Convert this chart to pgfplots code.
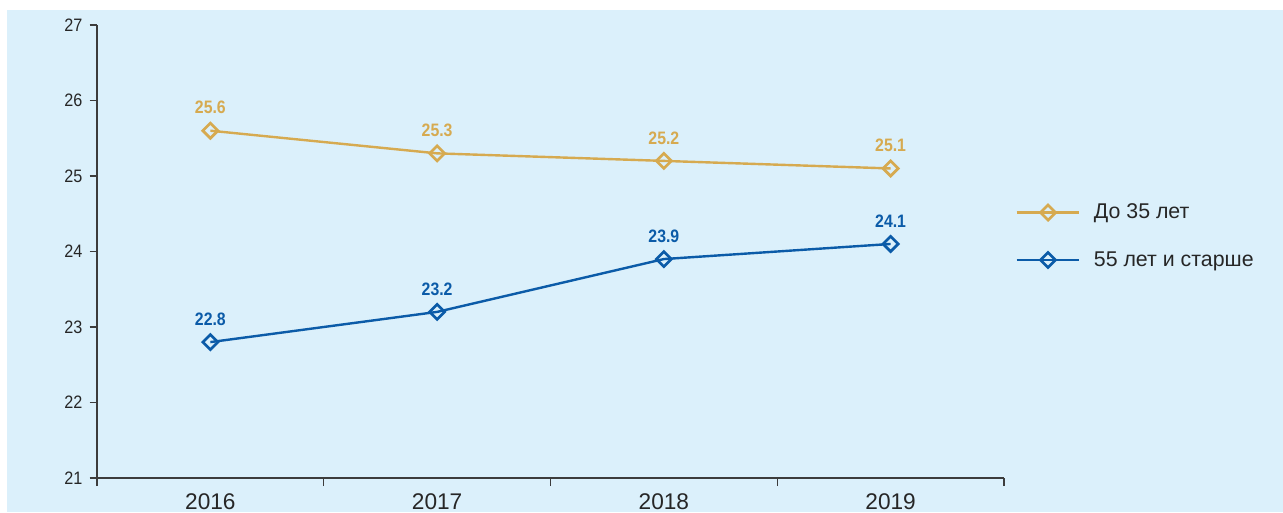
\documentclass[border=0pt]{standalone}
\usepackage{fontspec}
\setmainfont{Liberation Sans}
\newfontfamily\narrowfont[FakeStretch=0.9]{Liberation Sans}
\newfontfamily\narrowbold[FakeStretch=0.88]{Liberation Sans Bold}
\usepackage{pgfplots}
\pgfplotsset{compat=1.18}

\definecolor{bgblue}{RGB}{219,240,251}
\definecolor{gold}{RGB}{214,170,80}
\definecolor{darkblue}{RGB}{11,91,168}
\definecolor{axisgray}{RGB}{60,60,60}

\begin{document}
\begin{tikzpicture}[x=0.75pt,y=0.75pt]
\useasboundingbox (0,0) rectangle (1283,512);
\fill[white] (0,0) rectangle (1283,512);
\fill[bgblue] (7,0) rectangle (1283,502);
\begin{axis}[
    at={(72.75pt,25.5pt)}, anchor=south west,
    scale only axis,
    width=680.25pt, height=339.75pt,
    xmin=-0.5, xmax=3.5,
    ymin=21, ymax=27,
    axis x line*=bottom, axis y line*=left,
    axis line style={axisgray, line width=0.9pt},
    xtick={0,1,2,3},
    xticklabels={2016,2017,2018,2019},
    minor xtick={-0.5,0.5,1.5,2.5,3.5},
    major x tick style={draw=none},
    minor x tick style={axisgray, line width=0.9pt},
    minor tick length=6pt,
    ytick={21,...,27},
    y tick style={axisgray, line width=0.9pt},
    major tick length=5.5pt,
    tick align=outside,
    x tick label style={font=\fontsize{17}{20}\selectfont, text=black!85, yshift=-3pt},
    y tick label style={font=\narrowfont\fontsize{13.5}{15}\selectfont, text=black!85, xshift=-2pt},
    /pgf/number format/assume math mode=true,
    nodes near coords,
    every node near coord/.append style={font=\narrowbold\fontsize{13.5}{15}\selectfont,
        anchor=south, inner sep=0pt, yshift=11.5pt,
        /pgf/number format/fixed, /pgf/number format/precision=1, /pgf/number format/zerofill},
    clip=false,
    legend style={at={(1.008,0.617)}, anchor=north west, draw=none, fill=none,
        font=\fontsize{16}{19}\selectfont, text=black!85, row sep=19pt,
        nodes={inner xsep=0pt}},
    legend cell align=left,
    legend image code/.code={
        \draw[mark repeat=2, mark phase=2] plot coordinates {(0pt,0pt) (23.5pt,0pt) (47pt,0pt)};
    },
]
\addplot[gold, line width=1.8pt, mark=square, mark size=4pt,
    mark options={rotate=45, fill=white, line width=2pt, solid},
    every node near coord/.append style={text=gold}]
coordinates {(0,25.6) (1,25.3) (2,25.2) (3,25.1)};
\addlegendentry{\hspace{10pt}До 35 лет}
\addplot[darkblue, line width=1.8pt, mark=square, mark size=4pt,
    mark options={rotate=45, fill=white, line width=2pt, solid},
    every node near coord/.append style={text=darkblue}]
coordinates {(0,22.8) (1,23.2) (2,23.9) (3,24.1)};
\addlegendentry{\hspace{10pt}55 лет и старше}
\end{axis}
\end{tikzpicture}
\end{document}
